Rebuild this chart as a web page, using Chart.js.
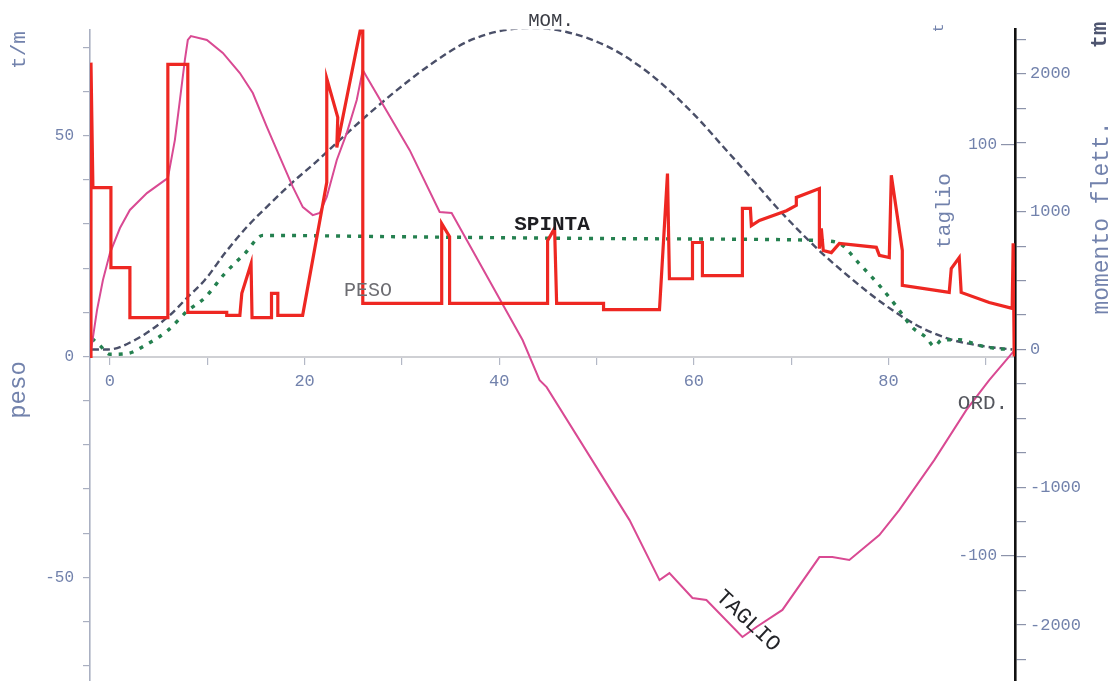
<!DOCTYPE html>
<html>
<head>
<meta charset="utf-8">
<script src="https://cdn.jsdelivr.net/npm/chart.js@4.4.1/dist/chart.umd.min.js"></script>
<style>
  html, body { margin: 0; padding: 0; background: #ffffff; overflow: hidden; }
  canvas { display: block; }
</style>
</head>
<body>
<canvas id="diagramma" width="1111" height="720"></canvas>
<script>
// Longitudinal strength diagram: weight, buoyancy, shear and bending moment along the hull.

// Weight distribution (t/m) against abscissa (m)
const pesoX = [-2.05, -1.95, -1.75, 0.1, 0.1, 2.05, 2.05, 5.95, 5.95, 8.0, 8.0, 12.0, 12.0, 13.35, 13.55, 14.5, 14.6,
  16.6, 16.6, 17.25, 17.25, 19.8, 22.28, 22.28, 23.41, 23.31, 25.98, 25.98, 34.09, 34.09, 34.9, 34.9, 44.97, 44.97,
  45.69, 45.9, 50.72, 50.72, 56.47, 57.29, 57.49, 59.86, 59.86, 60.88, 60.88, 64.99, 64.99, 65.81, 65.91, 66.74,
  69.51, 70.53, 70.53, 72.9, 72.9, 73.1, 73.3, 74.13, 74.95, 78.75, 79.06, 80.08, 80.29, 81.42, 81.42, 86.24, 86.45,
  87.27, 87.47, 90.35, 92.71, 92.81, 92.92];
const pesoY = [0, 66.5, 38.2, 38.2, 20.1, 20.1, 8.8, 8.8, 66.1, 66.1, 10.0, 10.0, 9.3, 9.3, 14.3, 21.0, 8.8,
  8.8, 14.3, 14.3, 9.3, 9.3, 39.4, 62.9, 54.1, 47.3, 76.7, 12.0, 12.0, 30.1, 27.1, 12.0, 12.0, 26.2,
  29.0, 12.0, 12.0, 10.6, 10.6, 41.4, 17.6, 17.6, 25.8, 25.8, 18.3, 18.3, 33.5, 33.5, 29.6, 30.8,
  33.0, 34.2, 36.0, 38.0, 24.4, 29.0, 24.0, 23.5, 25.6, 24.7, 22.9, 22.4, 41.0, 24.0, 16.1, 14.5, 19.9,
  22.4, 14.5, 12.2, 10.9, 25.6, 0];

// Buoyancy distribution (t/m)
const spintaX = [-1.85, -1.03, 0, 1.85, 3.59, 5.95, 7.91, 9.75, 11.81, 13.86, 15.71, 29.77, 50.31, 66.74, 73.2,
  74.95, 77.0, 79.06, 80.9, 82.44, 83.88, 84.7, 85.52, 87.27, 89.32, 91.07, 92.71];
const spintaY = [4.1, 2.5, 0.5, 0.7, 2.5, 5.9, 10.2, 13.3, 18.8, 23.3, 27.4, 27.1, 26.7, 26.5, 26.2,
  25.6, 21.0, 16.1, 11.1, 6.6, 4.3, 2.3, 3.8, 3.8, 2.5, 1.8, 1.6];

// Shear force (t)
const taglioX = [-1.95, -1.33, -0.72, 0, 1.03, 2.05, 3.8, 5.65, 5.95, 6.67, 7.19, 7.7, 8.0, 8.32, 9.96, 11.6,
  13.35, 14.68, 16.12, 17.45, 18.79, 19.82, 20.84, 21.56, 22.28, 23.31, 24.33, 25.36, 25.98, 26.39, 30.8, 33.88,
  35.11, 42.4, 44.15, 44.87, 53.39, 56.47, 57.49, 59.86, 61.29, 64.99, 66.43, 69.1, 72.9, 74.23, 75.98, 79.06,
  81.1, 84.7, 87.99, 90.35, 92.92];
const taglioY = [0, 19.7, 34.3, 47.4, 59.6, 68.4, 76.6, 82.9, 83.9, 102.4, 121.9, 141.4, 151.1, 153.0, 151.1, 144.8,
  135.0, 125.3, 108.8, 94.2, 79.6, 69.8, 65.9, 66.9, 74.7, 92.7, 105.8, 121.9, 136.5, 133.1, 97.5, 67.4,
  66.9, 5.1, -14.4, -17.8, -82.5, -111.7, -108.3, -120.4, -121.4, -139.4, -134.5, -126.2, -100.5, -100.5, -101.9, -89.8,
  -77.6, -53.3, -29.0, -14.4, 0];

// Bending moment (t·m)
const momentoX = [-1.85, -0.21, 2.57, 5.95, 8.01, 9.75, 11.91, 14.07, 16.43, 18.79, 21.05, 23.61, 26.69, 30.8,
  33.16, 36.65, 40.04, 43.43, 46.92, 51.03, 54.41, 57.19, 60.57, 62.94, 65.71, 68.48, 72.59, 75.98, 79.36,
  82.85, 86.24, 89.63, 92.71];
const momentoY = [0, 0, 69, 236, 381, 504, 708, 889, 1056, 1215, 1353, 1520, 1716, 1956,
  2079, 2231, 2311, 2333, 2304, 2202, 2057, 1898, 1665, 1477, 1259, 1034, 737, 526, 337,
  178, 76, 25, 0];

// Tick positions and the values printed on them
const xTicks = [0, 10, 20, 30, 40, 50, 60, 70, 80, 90];
const xLabels = [0, 20, 40, 60, 80];
const pesoTicks = [-70, -60, -50, -40, -30, -20, -10, 0, 10, 20, 30, 40, 50, 60, 70];
const pesoLabels = [-50, 0, 50];
const taglioTicks = [-100, 100];
const taglioLabels = [-100, 100];
const momentoTicks = [-2250, -2000, -1750, -1500, -1250, -1000, -750, -500, -250, 0, 250, 500, 750, 1000, 1250, 1500, 1750, 2000, 2250];
const momentoLabels = [-2000, -1000, 0, 1000, 2000];

const zip = (xs, ys) => xs.map((x, i) => ({ x: x, y: ys[i] }));
const fixedTicks = (list) => (scale) => { scale.ticks = list.map(v => ({ value: v })); };
const only = (list) => (v) => list.includes(Math.round(v)) ? String(Math.round(v)) : '';

const axisInk = '#7282ac';
const mono = '"Liberation Mono", "DejaVu Sans Mono", monospace';

// Free text printed on the diagram
const notes = [
  { text: 't/m', x: 19, y: 50, rot: -90, font: '21px ' + mono, color: axisInk },
  { text: 'peso', x: 19, y: 390, rot: -90, font: '24px ' + mono, color: axisInk },
  { text: 't', x: 939, y: 28, rot: -90, font: '15px ' + mono, color: axisInk },
  { text: 'taglio', x: 944, y: 211, rot: -90, font: '21px ' + mono, color: axisInk },
  { text: 'tm', x: 1100, y: 35, rot: -90, font: 'bold 22px ' + mono, color: '#4e5570' },
  { text: 'momento flett.', x: 1102, y: 218, rot: -90, font: '23px ' + mono, color: axisInk },
  { text: 'MOM.', x: 551, y: 21, rot: 0, font: '19px ' + mono, color: '#3a3c44' },
  { text: 'SPINTA', x: 552, y: 225, rot: 0, font: 'bold 21px ' + mono, color: '#1e1e22' },
  { text: 'PESO', x: 368, y: 291, rot: 0, font: '20px ' + mono, color: '#6d6d72' },
  { text: 'ORD.', x: 983, y: 403, rot: 0, font: '21px ' + mono, color: '#55575e' },
  { text: 'TAGLIO', x: 748, y: 621, rot: 43, font: '22px ' + mono, color: '#232428' }
];

const notesPlugin = {
  id: 'notes',
  afterDraw(chart) {
    const ctx = chart.ctx;
    notes.forEach(n => {
      ctx.save();
      ctx.translate(n.x, n.y);
      ctx.rotate(n.rot * Math.PI / 180);
      ctx.font = n.font;
      ctx.fillStyle = n.color;
      ctx.textAlign = 'center';
      ctx.textBaseline = 'middle';
      ctx.fillText(n.text, 0, 0);
      ctx.restore();
    });
  }
};

new Chart(document.getElementById('diagramma'), {
  type: 'line',
  data: {
    datasets: [
      {
        label: 'PESO', data: zip(pesoX, pesoY), yAxisID: 'y',
        borderColor: '#ee2722', borderWidth: 3.2, pointRadius: 0, tension: 0,
        borderJoinStyle: 'miter', order: 1
      },
      {
        label: 'TAGLIO', data: zip(taglioX, taglioY), yAxisID: 'yT',
        borderColor: '#d94a93', borderWidth: 2, pointRadius: 0, tension: 0, order: 2
      },
      {
        label: 'SPINTA', data: zip(spintaX, spintaY), yAxisID: 'y',
        borderColor: '#24804f', borderWidth: 3.4, borderDash: [4, 7], pointRadius: 0,
        cubicInterpolationMode: 'monotone', order: 3
      },
      {
        label: 'MOM.', data: zip(momentoX, momentoY), yAxisID: 'yM',
        borderColor: '#4a4f68', borderWidth: 2.4, borderDash: [7, 4], pointRadius: 0,
        cubicInterpolationMode: 'monotone', order: 4
      }
    ]
  },
  options: {
    responsive: false,
    animation: false,
    events: [],
    // the plotting frame spans the whole visible page height; the extra canvas rows lie below the fold
    layout: { padding: { top: 29.5, left: 0, right: 0, bottom: 36.5 } },
    plugins: { legend: { display: false }, tooltip: { enabled: false } },
    scales: {
      x: {
        type: 'linear', min: -2.05, max: 93.0,
        position: { y: 0 },
        afterBuildTicks: fixedTicks(xTicks),
        grid: { drawOnChartArea: false, drawTicks: true, tickLength: 7, color: '#b3b8c6', lineWidth: 1.2 },
        border: { display: true, color: '#cfd0d4', width: 2 },
        ticks: {
          autoSkip: false, maxRotation: 0, padding: 8,
          color: axisInk, font: { family: mono, size: 17 },
          callback: only(xLabels)
        }
      },
      y: {
        type: 'linear', position: 'left', min: -74, max: 74,
        afterFit: (s) => { s.width = 90; },
        afterBuildTicks: fixedTicks(pesoTicks),
        grid: { drawOnChartArea: false, drawTicks: true, tickLength: 7, color: '#a9afc0', lineWidth: 1.2 },
        border: { display: true, color: '#aab0c2', width: 1.6 },
        ticks: {
          autoSkip: false, padding: 9,
          color: axisInk, font: { family: mono, size: 16 },
          callback: only(pesoLabels)
        }
      },
      yT: {
        type: 'linear', position: 'right', min: -162.0, max: 156.2,
        afterFit: (s) => { s.width = 0; },
        afterBuildTicks: fixedTicks(taglioTicks),
        grid: { display: true, drawOnChartArea: false, drawTicks: true, tickLength: -14, color: '#8c93aa', lineWidth: 1.2 },
        border: { display: false },
        ticks: {
          autoSkip: false, mirror: true, padding: -18,
          color: axisInk, font: { family: mono, size: 16 },
          callback: only(taglioLabels)
        }
      },
      yM: {
        type: 'linear', position: 'right', min: -2424, max: 2322,
        afterFit: (s) => { s.width = 96; },
        afterBuildTicks: fixedTicks(momentoTicks),
        grid: { drawOnChartArea: false, drawTicks: true, tickLength: 11, color: '#8c93aa', lineWidth: 1.2 },
        border: { display: true, color: '#111111', width: 2.6 },
        ticks: {
          autoSkip: false, padding: 4,
          color: axisInk, font: { family: mono, size: 17 },
          callback: only(momentoLabels)
        }
      }
    }
  },
  plugins: [notesPlugin]
});
</script>
</body>
</html>
